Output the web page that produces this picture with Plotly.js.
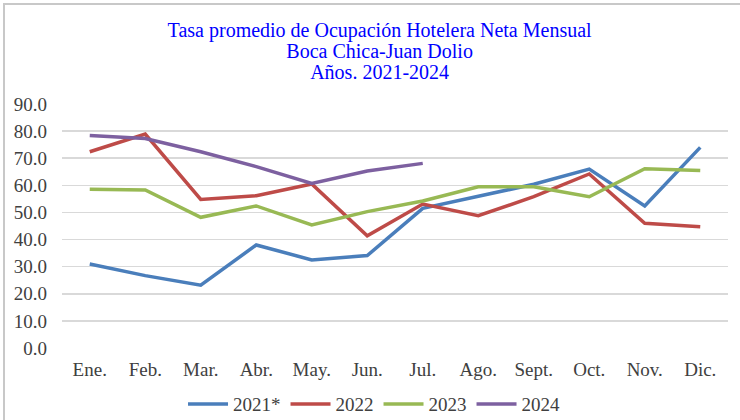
<!DOCTYPE html>
<html>
<head>
<meta charset="utf-8">
<script src="https://cdn.plot.ly/plotly-3.0.1.min.js"></script>
<style>
html,body{margin:0;padding:0;background:#fff;overflow:hidden;}
#frame{position:absolute;left:3px;top:3px;width:740px;height:420px;border-left:2px solid #c8c8c8;border-top:2px solid #c8c8c8;}
#chart{position:absolute;left:0;top:0;width:740px;height:420px;}
</style>
</head>
<body>
<div id="frame"></div>
<div id="chart"></div>
<script>
const months = ["Ene.","Feb.","Mar.","Abr.","May.","Jun.","Jul.","Ago.","Sept.","Oct.","Nov.","Dic."];
const y2021 = [31.0,26.7,23.2,38.0,32.5,34.1,51.5,55.8,60.4,66.0,52.4,74.0];
const y2022 = [72.4,78.9,54.8,56.2,60.5,41.4,53.1,48.8,55.8,64.2,46.0,44.7];
const y2023 = [58.6,58.3,48.2,52.4,45.4,50.3,54.2,59.5,59.5,55.8,66.1,65.5];
const y2024 = [78.4,77.3,72.4,66.9,60.7,65.3,68.1];
const seriesNames = ["2021*","2022","2023","2024"];
const titleLines = ["Tasa promedio de Ocupación Hotelera Neta Mensual","Boca Chica-Juan Dolio","Años. 2021-2024"];
const colors = ["#4A7EBB","#BE4B48","#98B954","#7D60A0"];
const FONT = "'Times New Roman', 'Liberation Serif', serif";
const data = [y2021,y2022,y2023,y2024].map((v,i)=>({
  type:"scatter", mode:"lines", name:seriesNames[i],
  x: months.slice(0,v.length), y: v,
  line:{color:colors[i], width:3.5}
}));
const layout = {
  width:740, height:420,
  margin:{l:62, r:12, t:104, b:72, autoexpand:false},
  paper_bgcolor:"rgba(0,0,0,0)", plot_bgcolor:"rgba(0,0,0,0)",
  font:{family:FONT, size:19, color:"#404040"},
  title:{
    text:titleLines.map(t=>'<span style="font-size:20px">'+t+'</span>').join("<br>"),
    font:{family:FONT, size:16.3, color:"#0000FF"},
    x:0.513, xanchor:"center", xref:"container", y:0.913, yanchor:"top", yref:"container"
  },
  xaxis:{
    type:"category", categoryarray:months, categoryorder:"array",
    range:[-0.5,11.5], showgrid:false, zeroline:false, showline:false,
    ticks:"", ticklabelstandoff:8, tickfont:{family:FONT, size:19, color:"#404040"}
  },
  yaxis:{
    range:[0,90], dtick:10, tick0:0, tickformat:".1f",
    showgrid:true, gridcolor:"#d9d9d9", gridwidth:1.5, zeroline:false, showline:false,
    ticks:"", ticklabelstandoff:14, tickfont:{family:FONT, size:19, color:"#404040"}
  },
  showlegend:true,
  legend:{orientation:"h", x:0.4685, xanchor:"center", y:0.038, yanchor:"middle", yref:"container",
    font:{family:FONT, size:19, color:"#404040"}, itemwidth:40, tracegroupgap:0}
};
Plotly.newPlot("chart", data, layout, {displayModeBar:false, staticPlot:true});
</script>
</body>
</html>
